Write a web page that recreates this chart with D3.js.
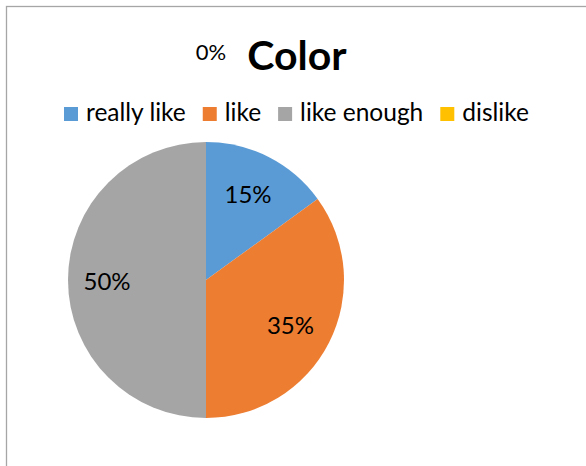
<!DOCTYPE html>
<html><head><meta charset="utf-8">
<script src="https://cdn.jsdelivr.net/npm/d3@7"></script>
<style>
html,body{margin:0;padding:0;background:#fff;}
svg{display:block;}
text{font-family:Lato,"Open Sans",sans-serif;fill:#000;}
</style></head>
<body>
<script>
const categories = ["really like", "like", "like enough", "dislike"];
const values = [15, 35, 50, 0];
const colors = ["#5B9BD5", "#ED7D31", "#A5A5A5", "#FFC000"];
const title = "Color";

const W = 586, H = 466;
const svg = d3.select("body").append("svg").attr("width", W).attr("height", H);

// chart border (extends beyond window to right/bottom)
svg.append("rect").attr("x", 6.5).attr("y", 6.5).attr("width", 620).attr("height", 500)
  .attr("fill", "#fff").attr("stroke", "#a6a6a6").attr("stroke-width", 1.3);

svg.append("text").attr("x", 297).attr("y", 70).attr("text-anchor", "middle")
  .attr("font-size", 41).attr("font-weight", "bold").text(title);

// legend
const legend = svg.append("g").attr("transform", "translate(64,107)");
let lx = 0;
categories.forEach((c, i) => {
  const g = legend.append("g").attr("transform", `translate(${lx},0)`);
  g.append("rect").attr("width", 14).attr("height", 14).attr("fill", colors[i]);
  const t = g.append("text").attr("x", 22).attr("y", 14).attr("font-size", 24.5).text(c);
  lx += 22 + t.node().getComputedTextLength() + 17;
});

const cx = 206, cy = 280, r = 138;
const pie = d3.pie().sort(null).value(d => d)(values);
const arc = d3.arc().innerRadius(0).outerRadius(r);
const labelArc = d3.arc().innerRadius(97).outerRadius(97);
const zeroArc = d3.arc().innerRadius(228).outerRadius(228);
const total = d3.sum(values);
const fmt = v => Math.round(v / total * 100) + "%";

const gp = svg.append("g").attr("transform", `translate(${cx},${cy})`);
gp.selectAll("path").data(pie).join("path")
  .attr("d", arc).attr("fill", (d, i) => colors[i]);

gp.selectAll("text.lbl").data(pie).join("text").attr("class", "lbl")
  .attr("transform", d => {
    const p = d.value === 0 ? zeroArc.centroid(d) : labelArc.centroid(d);
    return `translate(${p[0] + (d.value === 0 ? 5 : -2)},${p[1] + (d.value === 0 ? 0 : 1)})`;
  })
  .attr("text-anchor", "middle").attr("dy", "0.36em")
  .attr("font-size", d => d.value === 0 ? 22 : 24)
  .text(d => fmt(d.value));
</script>
</body></html>
